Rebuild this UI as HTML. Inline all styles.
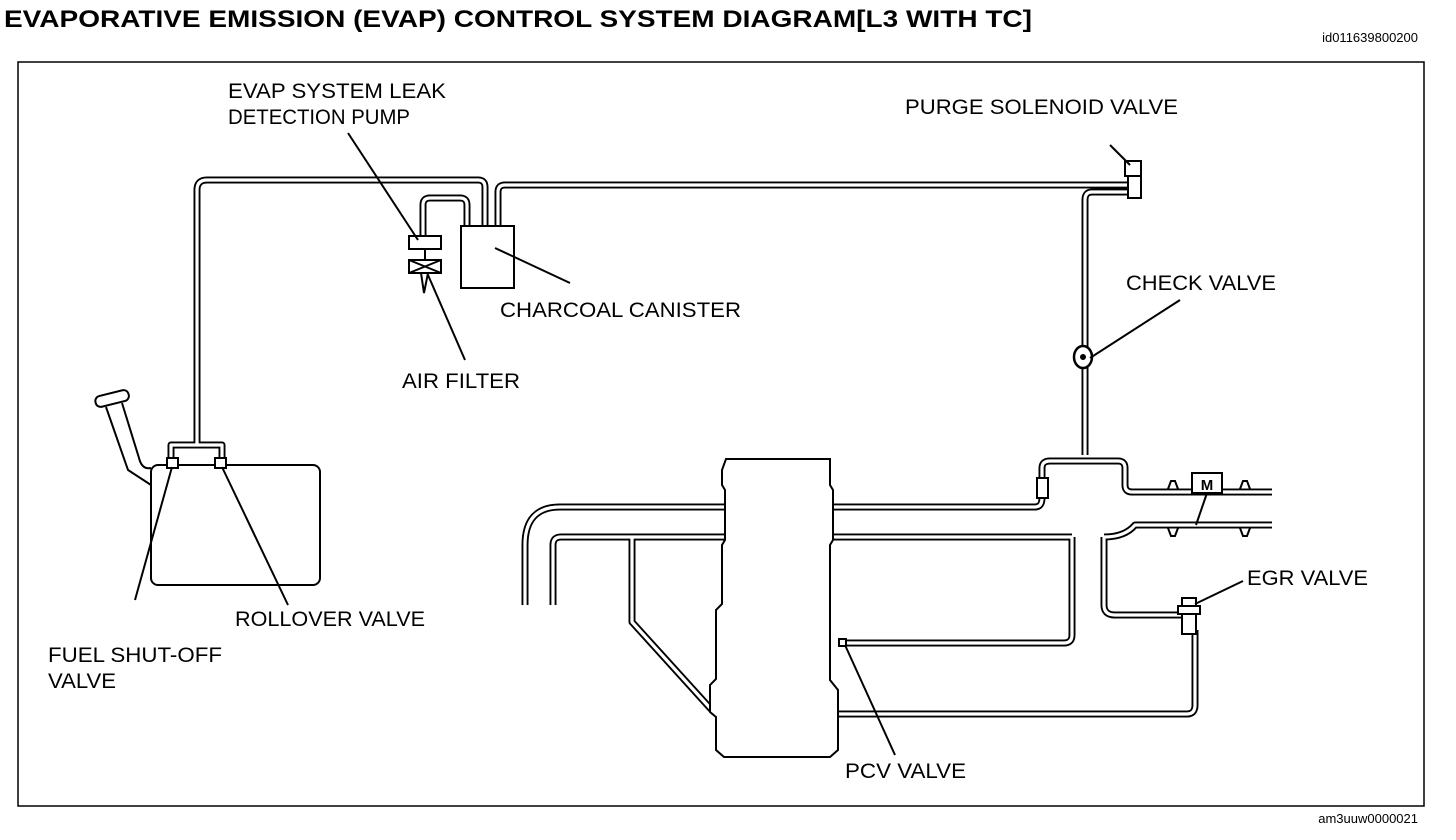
<!DOCTYPE html>
<html><head><meta charset="utf-8"><style>
body{margin:0;background:#fff;}
svg{display:block;font-family:"Liberation Sans",Arial,sans-serif;}
.p1{fill:none;stroke:#000;stroke-width:7;stroke-linejoin:round;stroke-linecap:butt}
.p2{fill:none;stroke:#fff;stroke-width:3.2;stroke-linejoin:round}
.l{fill:none;stroke:#000;stroke-width:2}
.t{font-size:21px;fill:#000}
</style></head><body>
<svg width="1456" height="840" viewBox="0 0 1456 840" xmlns="http://www.w3.org/2000/svg">
<defs>
<g id="pipes" fill="none">
<path d="M197 445 V190 Q197 180 207 180 H478 Q485 180 485 187 V226"/>
<path d="M423 236 V205 Q423 198 430 198 H460 Q467 198 467 205 V226"/>
<path d="M498 226 V192 Q498 185 505 185 H1130"/>
<path d="M171 458 V445 H222 V458"/>
<path d="M1130 192 H1092 Q1085 192 1085 200 V455"/>
<path d="M525 605 V545 Q525 507 560 507 H1035 Q1042 507 1042 498 V468 Q1042 461 1050 461 H1118 Q1125 461 1125 468 V485 Q1125 492 1132 492 H1272"/>
<path d="M553 605 V545 Q553 537 561 537 H1072"/>
<path d="M1104 537 Q1125 537 1135 525 H1272"/>
<path d="M632 537 V622 L710 708 Q715 714 725 714 H1187 Q1195 714 1195 705 V630"/>
<path d="M1072 537 V635 Q1072 643 1064 643 H843"/>
<path d="M1104 537 V605 Q1104 615 1115 615 H1182"/>
</g>
</defs>
<text x="4" y="27" textLength="1028" lengthAdjust="spacingAndGlyphs" style="font-size:24px;font-weight:bold">EVAPORATIVE EMISSION (EVAP) CONTROL SYSTEM DIAGRAM[L3 WITH TC]</text>
<text x="1418" y="42" text-anchor="end" style="font-size:13px">id011639800200</text>
<text x="1418" y="823" text-anchor="end" style="font-size:13px">am3uuw0000021</text>
<rect x="18" y="62" width="1406" height="744" fill="none" stroke="#000" stroke-width="1.5"/>

<g class="p1"><use href="#pipes"/></g>
<g class="p2"><use href="#pipes"/></g>

<!-- fuel tank -->
<rect x="151" y="465" width="169" height="120" rx="7" fill="#fff" stroke="#000" stroke-width="2"/>
<path d="M106 407 L128 470 L151 485" class="l"/>
<path d="M122 403 L139 458 Q142 470 151 468" class="l"/>
<rect x="95" y="393" width="34" height="11" rx="5" transform="rotate(-14 112 398)" fill="#fff" stroke="#000" stroke-width="2"/>
<rect x="167" y="458" width="11" height="10" fill="#fff" stroke="#000" stroke-width="2"/>
<rect x="215" y="458" width="11" height="10" fill="#fff" stroke="#000" stroke-width="2"/>

<!-- canister & pump -->
<rect x="461" y="226" width="53" height="62" fill="#fff" stroke="#000" stroke-width="2"/>
<rect x="409" y="236" width="32" height="13" fill="#fff" stroke="#000" stroke-width="2"/>
<rect x="409" y="260" width="32" height="13" fill="#fff" stroke="#000" stroke-width="2"/>
<path d="M409 260 L441 273 M441 260 L409 273 M425 249 V260" class="l"/>
<path d="M421 273 L424 293 L428 273" class="l"/>

<!-- purge valve -->
<rect x="1125" y="161" width="16" height="15" fill="#fff" stroke="#000" stroke-width="2"/>
<rect x="1128" y="176" width="13" height="22" fill="#fff" stroke="#000" stroke-width="2"/>
<!-- check valve -->
<ellipse cx="1083" cy="357" rx="9" ry="11" fill="#fff" stroke="#000" stroke-width="2.5"/>
<circle cx="1083" cy="357" r="3"/>
<!-- small valve -->
<rect x="1037" y="478" width="11" height="20" fill="#fff" stroke="#000" stroke-width="2"/>
<!-- M box -->
<rect x="1192" y="473" width="30" height="20" fill="#fff" stroke="#000" stroke-width="2"/>
<text x="1207" y="490" text-anchor="middle" style="font-size:15px;font-weight:bold">M</text>
<path d="M1207 493 L1196 525" class="l"/>
<path d="M1168 489 l3 -8 h4 l3 8 M1240 489 l3 -8 h4 l3 8 M1168 528 l3 8 h4 l3 -8 M1240 528 l3 8 h4 l3 -8" class="l"/>

<!-- engine block -->
<path d="M726 459 H830 V485 L833 490 V540 L830 545 V680 L838 690 V750 L830 757 H724 L716 750 V717 L710 712 V685 L716 679 V610 L722 604 V545 L725 540 V490 L722 485 V470 Z" fill="#fff" stroke="#000" stroke-width="2"/>
<rect x="839" y="639" width="7" height="7" fill="#fff" stroke="#000" stroke-width="2"/>
<!-- EGR -->
<rect x="1182" y="598" width="14" height="8" fill="#fff" stroke="#000" stroke-width="2"/>
<rect x="1178" y="606" width="22" height="8" fill="#fff" stroke="#000" stroke-width="2"/>
<rect x="1182" y="614" width="14" height="20" fill="#fff" stroke="#000" stroke-width="2"/>

<!-- leaders -->
<g class="l" stroke-width="1.6">
<path d="M348 133 L418 240"/>
<path d="M1110 145 L1130 165"/>
<path d="M570 283 L495 248"/>
<path d="M1180 300 L1090 358"/>
<path d="M465 360 L428 275"/>
<path d="M1243 581 L1195 604"/>
<path d="M288 605 L222 467"/>
<path d="M135 600 L172 467"/>
<path d="M895 755 L845 645"/>
</g>

<!-- labels -->
<text x="228" y="98" class="t" textLength="218" lengthAdjust="spacingAndGlyphs">EVAP SYSTEM LEAK</text>
<text x="228" y="124" class="t" textLength="182" lengthAdjust="spacingAndGlyphs">DETECTION PUMP</text>
<text x="905" y="114" class="t" textLength="273" lengthAdjust="spacingAndGlyphs">PURGE SOLENOID VALVE</text>
<text x="500" y="317" class="t" textLength="241" lengthAdjust="spacingAndGlyphs">CHARCOAL CANISTER</text>
<text x="1126" y="290" class="t" textLength="150" lengthAdjust="spacingAndGlyphs">CHECK VALVE</text>
<text x="402" y="388" class="t" textLength="118" lengthAdjust="spacingAndGlyphs">AIR FILTER</text>
<text x="1247" y="585" class="t" textLength="121" lengthAdjust="spacingAndGlyphs">EGR VALVE</text>
<text x="235" y="626" class="t" textLength="190" lengthAdjust="spacingAndGlyphs">ROLLOVER VALVE</text>
<text x="48" y="662" class="t" textLength="174" lengthAdjust="spacingAndGlyphs">FUEL SHUT-OFF</text>
<text x="48" y="688" class="t" textLength="68" lengthAdjust="spacingAndGlyphs">VALVE</text>
<text x="845" y="778" class="t" textLength="121" lengthAdjust="spacingAndGlyphs">PCV VALVE</text>
</svg>
</body></html>
